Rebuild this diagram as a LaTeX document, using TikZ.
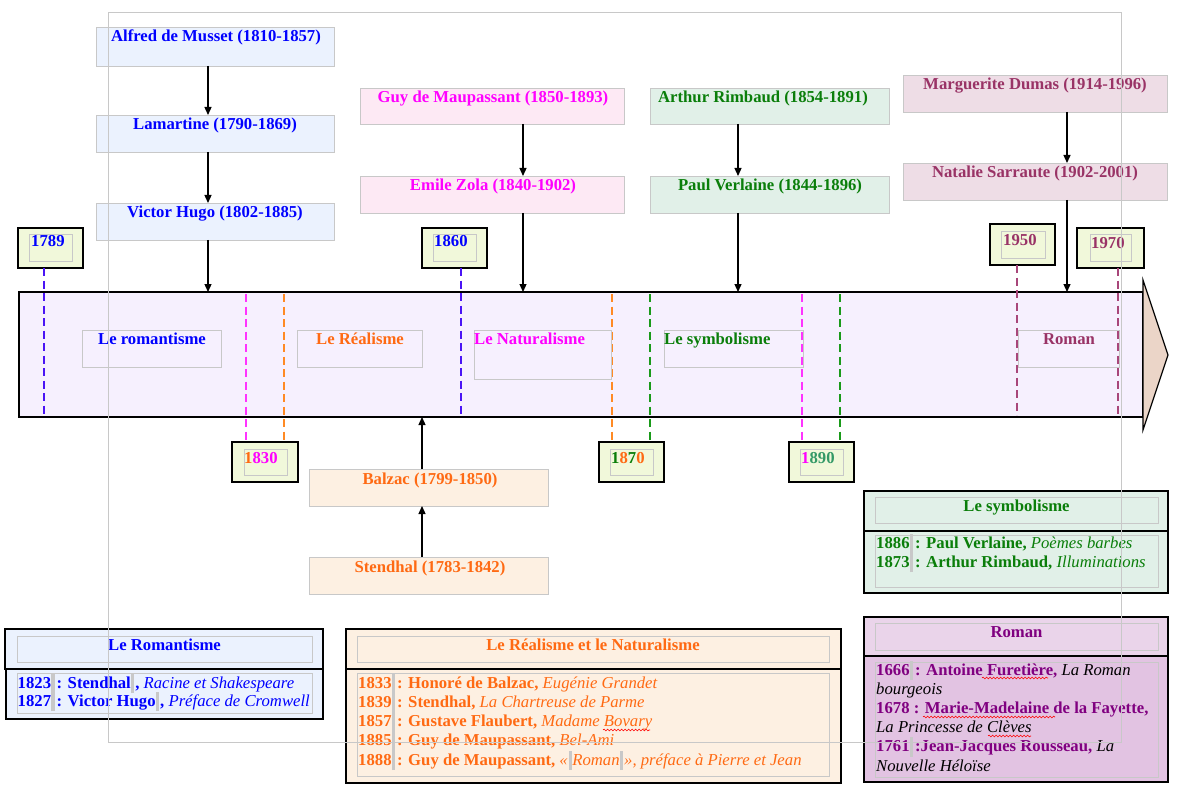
\documentclass[tikz,border=0pt]{standalone}
\usepackage{fontspec}
\setmainfont{Liberation Serif}
\usetikzlibrary{arrows.meta,decorations.pathmorphing}
\definecolor{gB}{HTML}{C8C8C8}
\definecolor{tBlue}{HTML}{0000FF}
\definecolor{tMag}{HTML}{FF00FF}
\definecolor{tOr}{HTML}{FF6A13}
\definecolor{tGr}{HTML}{0A7E0A}
\definecolor{tMar}{HTML}{993366}
\definecolor{tPur}{HTML}{800080}
\definecolor{tTeal}{HTML}{339966}
\definecolor{dBlue}{HTML}{4A14F5}
\definecolor{dMag}{HTML}{FF33FF}
\definecolor{dOr}{HTML}{FF8A24}
\definecolor{dGr}{HTML}{1A9A1A}
\definecolor{dMar}{HTML}{A8467A}
\definecolor{fBlue}{HTML}{EBF2FE}
\definecolor{fPink}{HTML}{FDE9F4}
\definecolor{fGreen}{HTML}{E1F0E8}
\definecolor{fMar}{HTML}{EEDDE6}
\definecolor{fPeach}{HTML}{FDF0E2}
\definecolor{fYear}{HTML}{F1F8DA}
\definecolor{fTl}{HTML}{F6F0FE}
\definecolor{fTip}{HTML}{EBD5C8}
\definecolor{fRomH}{HTML}{EAD4EA}
\definecolor{fRomB}{HTML}{E2C3E2}
\newcommand{\fs}{\fontsize{16.7}{19}\selectfont}
\newcommand{\gb}{{\color{gB}\rule[-5pt]{3.5pt}{19.5pt}}}
\newcommand{\ti}[1]{{\mdseries\itshape #1}}
\newcommand{\mybox}[6]{\node[#1, minimum width={#4-#2}, minimum height={#5-#3}] (#6) at (#2,#3) {};}
\tikzset{
  gbox/.style={draw=gB, line width=0.9pt, anchor=north west, inner sep=0pt, outer sep=0pt},
  kbox/.style={draw=black, line width=2.4pt, anchor=north west, inner sep=0pt, outer sep=0pt},
  tbox/.style={draw=black, line width=1.1pt, anchor=north west, inner sep=0pt, outer sep=0pt},
  gline/.style={draw=gB, line width=0.9pt},
  txt/.style={inner sep=0pt, font=\fs\bfseries, anchor=base},
  ltxt/.style={inner sep=0pt, font=\fs\bfseries, anchor=base west},
  arr/.style={line width=1.3pt, -{Triangle[length=8pt,width=7pt]}},
  dsh/.style={line width=1.5pt, dash pattern=on 8pt off 4.5pt},
  squig/.style={draw=red, line width=0.6pt, decorate, decoration={snake, amplitude=0.9pt, segment length=3.5pt}}
}
\begin{document}
\begin{tikzpicture}[x=1pt,y=-1pt]
\useasboundingbox (0,0) rectangle (1177,794);
% ---------- author boxes ----------
\mybox{gbox,fill=fBlue}{96}{27}{334}{66}{musset}
\mybox{gbox,fill=fBlue}{96}{115}{334}{152}{lamartine}
\mybox{gbox,fill=fBlue}{96}{203}{334}{240}{hugo}
\node[txt,text=tBlue] (tmusset) at (216,42) {Alfred de Musset (1810-1857)};
\node[txt,text=tBlue] (tlamartine) at (215,130) {Lamartine (1790-1869)};
\node[txt,text=tBlue] (thugo) at (215,218) {Victor Hugo (1802-1885)};
\mybox{gbox,fill=fPink}{360}{88}{624}{124}{maupassant}
\mybox{gbox,fill=fPink}{360}{176}{624}{213}{zola}
\node[txt,text=tMag] (tmaup) at (493,103) {Guy de Maupassant (1850-1893)};
\node[txt,text=tMag] (tzola) at (493,191) {Emile Zola (1840-1902)};
\mybox{gbox,fill=fGreen}{650}{88}{889}{124}{rimbaud}
\mybox{gbox,fill=fGreen}{650}{176}{889}{213}{verlaine}
\node[txt,text=tGr] (trimb) at (763,103) {Arthur Rimbaud (1854-1891)};
\node[txt,text=tGr] (tverl) at (770,191) {Paul Verlaine (1844-1896)};
\mybox{gbox,fill=fMar}{903}{75}{1167}{112}{dumas}
\mybox{gbox,fill=fMar}{903}{163}{1167}{200}{sarraute}
\node[txt,text=tMar] (tdumas) at (1035,90) {Marguerite Dumas (1914-1996)};
\node[txt,text=tMar] (tsarr) at (1035,178) {Natalie Sarraute (1902-2001)};
\mybox{gbox,fill=fPeach}{309}{469}{548}{506}{balzac}
\mybox{gbox,fill=fPeach}{309}{557}{548}{594}{stendhal}
\node[txt,text=tOr] (tbalzac) at (430,484) {Balzac (1799-1850)};
\node[txt,text=tOr] (tstendhal) at (430,572) {Stendhal (1783-1842)};
% ---------- timeline ----------
\mybox{kbox,fill=fTl}{19}{292}{1143}{417}{tl}
\draw[line width=1.2pt, fill=fTip] (1143,280) -- (1168,355) -- (1143,430) -- cycle;
\coordinate (hugoT) at (208,292);
\coordinate (zolaT) at (523,292);
\coordinate (verlT) at (738,292);
\coordinate (sarrT) at (1067,292);
\coordinate (balzB) at (422,417);
% ---------- arrows ----------
\draw[arr] ([xshift=-7pt]musset.south) -- ([xshift=-7pt]lamartine.north);
\draw[arr] ([xshift=-7pt]lamartine.south) -- ([xshift=-7pt]hugo.north);
\draw[arr] ([xshift=-7pt]hugo.south) -- (hugoT);
\draw[arr] ([xshift=31pt]maupassant.south) -- ([xshift=31pt]zola.north);
\draw[arr] ([xshift=31pt]zola.south) -- (zolaT);
\draw[arr] ([xshift=-31.5pt]rimbaud.south) -- ([xshift=-31.5pt]verlaine.north);
\draw[arr] ([xshift=-31.5pt]verlaine.south) -- (verlT);
\draw[arr] ([xshift=32pt]dumas.south) -- ([xshift=32pt]sarraute.north);
\draw[arr] ([xshift=32pt]sarraute.south) -- (sarrT);
\draw[arr] ([xshift=-6.5pt]stendhal.north) -- ([xshift=-6.5pt]balzac.south);
\draw[arr] ([xshift=-6.5pt]balzac.north) -- (balzB);
% ---------- year boxes ----------
\mybox{kbox,fill=fYear}{18}{228}{83}{268}{y1789}
\draw[gline] (29,234) rectangle (72,261);
\node[ltxt,text=tBlue] (t1789) at (31,247) {1789};
\mybox{kbox,fill=fYear}{422}{228}{487}{268}{y1860}
\draw[gline] (433,234) rectangle (476,261);
\node[ltxt,text=tBlue] (t1860) at (434,247) {1860};
\mybox{kbox,fill=fYear}{990}{224}{1055}{265}{y1950}
\draw[gline] (1001,231) rectangle (1045,258);
\node[ltxt,text=tMar] (t1950) at (1003,246) {1950};
\mybox{kbox,fill=fYear}{1077}{228}{1144}{268}{y1970}
\draw[gline] (1090,234) rectangle (1131,261);
\node[ltxt,text=tMar] (t1970) at (1091,248) {1970};
\mybox{kbox,fill=fYear}{232}{442}{298}{482}{y1830}
\draw[gline] (244,449) rectangle (287,475);
\node[ltxt] (t1830) at (244,463) {\textcolor{tOr}{1}\textcolor{tMag}{830}};
\mybox{kbox,fill=fYear}{599}{442}{664}{482}{y1870}
\draw[gline] (610,449) rectangle (653,475);
\node[ltxt] (t1870) at (611,463) {\textcolor{tGr}{1}\textcolor{tOr}{8}\textcolor{tGr}{7}\textcolor{tOr}{0}};
\mybox{kbox,fill=fYear}{789}{442}{854}{482}{y1890}
\draw[gline] (800,449) rectangle (843,475);
\node[ltxt] (t1890) at (801,463) {\textcolor{tMag}{1}\textcolor{tTeal}{890}};
% ---------- dashed lines ----------
\draw[dsh,dBlue] (y1789.south -| 44,0) -- (44,415);
\draw[dsh,dBlue] (y1860.south -| 461,0) -- (461,415);
\draw[dsh,dMag] (246,294) -- (y1830.north -| 246,0);
\draw[dsh,dOr] (284,294) -- (y1830.north -| 284,0);
\draw[dsh,dOr] (612,294) -- (y1870.north -| 612,0);
\draw[dsh,dGr] (650,294) -- (y1870.north -| 650,0);
\draw[dsh,dMag] (802,294) -- (y1890.north -| 802,0);
\draw[dsh,dGr] (840,294) -- (y1890.north -| 840,0);
\draw[dsh,dMar] (y1950.south -| 1017,0) -- (1017,415);
\draw[dsh,dMar] (y1970.south -| 1118,0) -- (1118,415);
% ---------- era labels ----------
\mybox{gbox}{82}{330}{221}{367}{eRom}
\node[txt,text=tBlue] (teRom) at (152,344) {Le romantisme};
\mybox{gbox}{297}{330}{422}{367}{eReal}
\node[txt,text=tOr] (teReal) at (360,344) {Le Réalisme};
\mybox{gbox}{474}{330}{611}{379}{eNat}
\node[ltxt,text=tMag] (teNat) at (474,344) {Le Naturalisme};
\mybox{gbox}{664}{330}{803}{367}{eSym}
\node[ltxt,text=tGr] (teSym) at (664,344) {Le symbolisme};
\mybox{gbox}{1018}{330}{1119}{367}{eRoman}
\node[txt,text=tMar] (teRoman) at (1069,344) {Roman};
% ---------- bottom: Romantisme ----------
\mybox{kbox,fill=fBlue}{5}{629}{323}{669}{hRom}
\draw[gline] (17,636) rectangle (312,662);
\node[txt,text=tBlue] (thRom) at (164.5,650) {Le Romantisme};
\mybox{tbox,fill=fBlue}{6}{669}{323}{719}{bRom}
\draw[gline] (17,673) rectangle (312,713);
\begin{scope}[every node/.style={ltxt,text=tBlue}]
\node (r1) at (17.5,688) {1823\gb\kern2pt: Stendhal\gb\kern1pt, \ti{Racine et Shakespeare}};
\node (r2) at (17.5,706) {1827\gb\kern2pt: Victor Hugo\gb\kern1pt, \ti{Préface de Cromwell}};
\end{scope}
% ---------- bottom: Realisme ----------
\mybox{kbox,fill=fPeach}{346}{629}{841}{669}{hReal}
\draw[gline] (357,636) rectangle (829,662);
\node[txt,text=tOr] (thReal) at (593,650) {Le Réalisme et le Naturalisme};
\mybox{tbox,fill=fPeach}{346}{669}{841}{783}{bReal}
\draw[gline] (357,673) rectangle (829,776);
\begin{scope}[every node/.style={ltxt,text=tOr}]
\node (a1) at (358,688) {1833\gb\kern2pt: Honoré de Balzac, \ti{Eugénie Grandet}};
\node (a2) at (358,707.3) {1839\gb\kern2pt: Stendhal, \ti{La Chartreuse de Parme}};
\node (a3) at (358,726.6) {1857\gb\kern2pt: Gustave Flaubert, \ti{Madame Bovary}};
\node (a4) at (358,745.9) {1885\gb\kern2pt: Guy de Maupassant, \ti{Bel-Ami}};
\node (a5) at (358,765.2) {1888\gb\kern2pt: Guy de Maupassant, \ti{«\kern1pt\gb Roman\gb\kern1pt», préface à Pierre et Jean}};
\end{scope}
% ---------- bottom: Symbolisme ----------
\mybox{kbox,fill=fGreen}{864}{491}{1168}{531}{hSym}
\draw[gline] (875,497) rectangle (1158,523);
\node[txt,text=tGr] (thSym) at (1016.5,511) {Le symbolisme};
\mybox{tbox,fill=fGreen}{864}{531}{1168}{593}{bSym}
\draw[gline] (875,535) rectangle (1158,587);
\begin{scope}[every node/.style={ltxt,text=tGr}]
\node (s1) at (876,548) {1886\gb\kern2pt: Paul Verlaine, \ti{Poèmes barbes}};
\node (s2) at (876,567) {1873\gb\kern2pt: Arthur Rimbaud, \ti{Illuminations}};
\end{scope}
% ---------- bottom: Roman ----------
\mybox{kbox,fill=fRomH}{864}{617}{1168}{656}{hRoman}
\draw[gline] (875,623) rectangle (1158,650);
\node[txt,text=tPur] (thRoman) at (1016.5,637) {Roman};
\mybox{tbox,fill=fRomB}{864}{656}{1168}{782}{bRoman}
\draw[gline] (875,662) rectangle (1158,777);
\begin{scope}[every node/.style={ltxt,text=tPur}]
\node (m1) at (876,675) {1666\gb\kern2pt: Antoine Furetière, \textcolor{black}{\ti{La Roman}}};
\node (m2) at (876,694.2) {\textcolor{black}{\ti{bourgeois}}};
\node (m3) at (876,713.4) {1678 : Marie-Madelaine de la Fayette,};
\node (m4) at (876,732.6) {\textcolor{black}{\ti{La Princesse de Clèves}}};
\node (m5) at (876,751.8) {1761\gb\kern2pt:Jean-Jacques Rousseau, \textcolor{black}{\ti{La}}};
\node (m6) at (876,771) {\textcolor{black}{\ti{Nouvelle Héloïse}}};
\end{scope}
% ---------- spell-check marks ----------
\draw[squig] (982,678) -- (1048,678);
\draw[squig] (923,717) -- (1055,717);
\draw[squig] (988,736) -- (1031,736);
\draw[squig] (603,730) -- (650,730);
% ---------- page frame ----------
\draw[gline] (108,12) rectangle (1121,742);
\end{tikzpicture}
\end{document}
